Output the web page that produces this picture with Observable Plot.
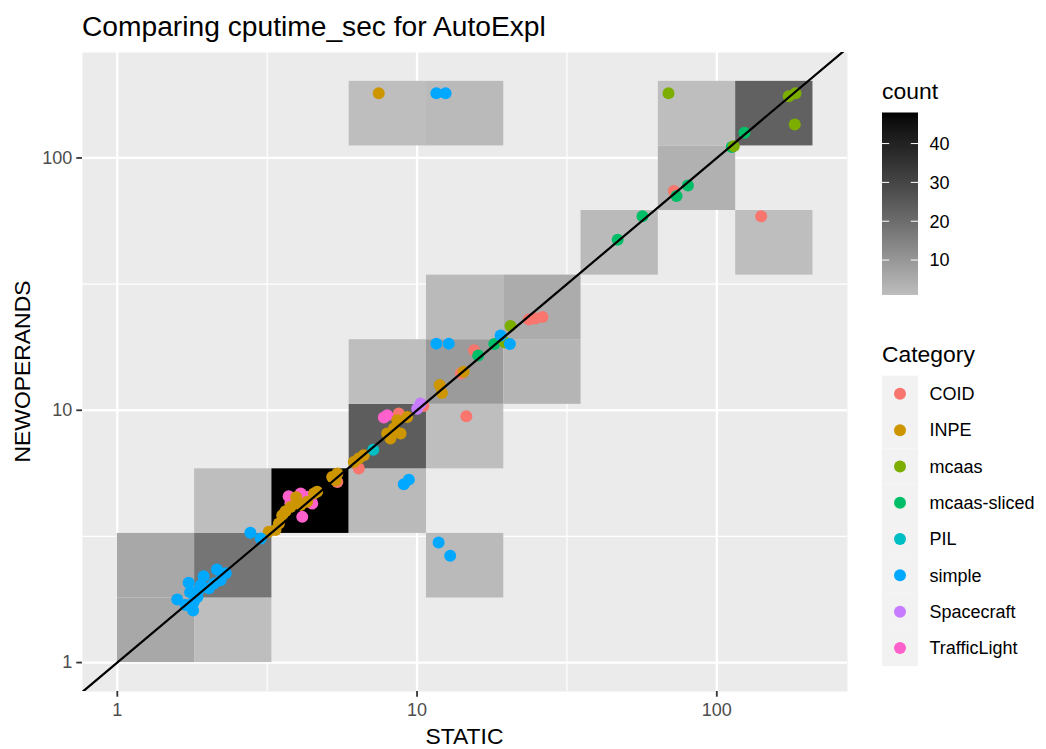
<!DOCTYPE html>
<html><head><meta charset="utf-8">
<script src="https://cdn.jsdelivr.net/npm/d3@7"></script>
<script src="https://cdn.jsdelivr.net/npm/@observablehq/plot@0.6"></script>
<style>
body{margin:0;background:#fff;}
#wrap{position:relative;width:1046px;height:749px;font-family:"Liberation Sans",Arial,Helvetica,sans-serif;}
#wrap > svg{position:absolute;left:0;top:0;}
</style></head><body><div id="wrap"></div>
<script>
// ---- data ----
const categories = ["COID","INPE","mcaas","mcaas-sliced","PIL","simple","Spacecraft","TrafficLight"];
const categoryColors = ["#F8766D","#CD9600","#7CAE00","#00BE67","#00BFC4","#00A9FF","#C77CFF","#FF61CC"];
const drawOrder = ["COID","TrafficLight","INPE","PIL","Spacecraft","mcaas-sliced","mcaas","simple"];

// [STATIC, NEWOPERANDS]
const COID = [[15.5,17.3],[14.0,14.0],[14.6,9.47],[10.5,10.4],[8.69,9.7],[6.39,5.88],[5.42,5.2],[23.6,22.9],[24.8,23.1],[26.2,23.4],[71.9,73.9],[140.6,58.7]];
const INPE = [[7.45,180.6],[14.3,14.2],[11.9,12.6],[12.1,11.7],[8.59,9.13],[9.27,9.41],[8.37,8.46],[8.81,8.09],[8.15,7.73],[7.95,8.09],[6.64,6.63],[6.39,6.44],[6.15,6.24],[5.42,5.62],[5.21,5.44],[5.35,5.28],[4.64,4.75],[4.53,4.68],[4.30,4.34],[4.09,4.21],[3.78,4.14],[3.55,3.84],[3.46,3.56],[3.37,3.35],[3.20,3.30],[3.95,4.52],[3.64,3.98]];
const mcaas = [[69.0,180.6],[173.8,175.7],[183.1,180.6],[182.0,135.7],[113.9,111.4],[20.5,21.6],[19.6,18.6]];
const mcaasSliced = [[123.7,125.9],[112.2,110.4],[80.1,77.8],[73.4,70.6],[56.5,58.7],[46.7,47.4],[18.1,18.3],[16.0,16.5]];
const PIL = [[7.14,6.97]];
const simple = [[11.6,180.6],[12.45,180.6],[11.6,18.37],[12.76,18.37],[19.0,19.8],[20.4,18.3],[11.8,2.99],[12.9,2.65],[9.39,5.31],[9.03,5.09],[2.78,3.27],[3.01,3.10],[1.585,1.78],[1.73,2.07],[1.94,2.20],[2.15,2.34],[2.30,2.26],[1.80,1.74],[1.79,1.61],[1.69,1.69],[1.87,1.94],[2.02,1.97],[2.10,2.06],[2.21,2.12],[1.85,1.82],[1.75,1.90],[1.90,2.03]];
const Spacecraft = [[10.27,10.63],[10.01,10.15]];
const TrafficLight = [[7.75,9.36],[7.95,9.55],[3.73,4.56],[4.09,4.68],[4.30,4.54],[4.47,4.27],[4.14,3.78],[3.78,4.28]];
const seriesByCategory = {"COID":COID,"INPE":INPE,"mcaas":mcaas,"mcaas-sliced":mcaasSliced,"PIL":PIL,"simple":simple,"Spacecraft":Spacecraft,"TrafficLight":TrafficLight};

// 2D bins (log-spaced edges) and counts
const binXEdges = [1, 1.811, 3.279, 5.937, 10.75, 19.47, 35.25, 63.83, 115.6, 209.3];
const binYEdges = [1, 1.803, 3.250, 5.859, 10.56, 19.04, 34.33, 61.9, 111.6, 201.2];
const binCol   = [0,0,1,1, 1, 2,3, 3,4,4,3,4,5,4,5,6,7,8,7, 8,3,4];
const binRow   = [0,1,0,1, 2, 2,2, 3,1,3,4,4,4,5,5,6,7,6,8, 8,8,8];
const binCount = [6,6,1,18,1,48,2,24,2,1,1,9,3,2,5,2,4,1,1,23,1,2];

const countTicks = [10,20,30,40];
const xTicks = [1,10,100];
const yTicks = [1,10,100];
const minorTicks = [3.1623, 31.623];
const xDomain = [0.7654, 272.9];
const yDomain = [0.768, 261.8];
const countDomain = [1, 48];
const lowFill = "#bebebe", highFill = "#000000";

// ---- derived tables ----
const cells = binCount.map((c,k) => ({
  x1: binXEdges[binCol[k]], x2: binXEdges[binCol[k]+1],
  y1: binYEdges[binRow[k]], y2: binYEdges[binRow[k]+1], count: c
}));
const diagonal = [0.5, 400];
const interp = d3.interpolateLab(lowFill, highFill);

const FONT = '"Liberation Sans", Arial, Helvetica, sans-serif';
const R = 6;
const dotMarks = drawOrder.map(cat => Plot.dot(seriesByCategory[cat], {
  x: d => d[0], y: d => d[1], r: R, fill: categoryColors[categories.indexOf(cat)], stroke: "none"
}));

const plot = Plot.plot({
  width: 1046, height: 749,
  marginLeft: 82, marginRight: 199, marginTop: 52, marginBottom: 58,
  style: {fontFamily: FONT, background: "transparent", overflow: "visible"},
  x: {type: "log", domain: xDomain},
  y: {type: "log", domain: yDomain},
  color: {type: "linear", domain: countDomain, interpolate: interp},
  marks: [
    Plot.frame({fill: "#ebebeb", stroke: "none"}),
    Plot.gridX(minorTicks, {stroke: "white", strokeOpacity: 1, strokeWidth: 1.2}),
    Plot.gridY(minorTicks, {stroke: "white", strokeOpacity: 1, strokeWidth: 1.2}),
    Plot.gridX(xTicks, {stroke: "white", strokeOpacity: 1, strokeWidth: 2.3}),
    Plot.gridY(yTicks, {stroke: "white", strokeOpacity: 1, strokeWidth: 2.3}),
    Plot.rect(cells, {x1: "x1", x2: "x2", y1: "y1", y2: "y2", fill: "count"}),
    ...dotMarks,
    Plot.line(diagonal, {x: d => d, y: d => d, stroke: "black", strokeWidth: 2.2, clip: true}),
    Plot.axisX({ticks: xTicks, tickFormat: d => String(d), tickSize: 5.7, tickPadding: 6.4, fontSize: 18,
      stroke: "#333333", fill: "#4d4d4d", strokeWidth: 1.8, label: null}),
    Plot.axisY({ticks: yTicks, tickFormat: d => String(d), tickSize: 5.7, tickPadding: 4.6, fontSize: 18,
      stroke: "#333333", fill: "#4d4d4d", strokeWidth: 1.8, label: null})
  ]
});
const wrap = document.getElementById("wrap");
wrap.appendChild(plot);

// ---- overlay: titles and legends ----
const svg = d3.select(wrap).append("svg").attr("width", 1046).attr("height", 749)
  .style("font-family", FONT).style("pointer-events", "none");

svg.append("text").attr("x", 82).attr("y", 36).attr("font-size", 28.2).attr("fill", "black")
  .text("Comparing cputime_sec for AutoExpl");
svg.append("text").attr("x", 464.5).attr("y", 743.5).attr("text-anchor", "middle")
  .attr("font-size", 22.9).attr("fill", "black").text("STATIC");
svg.append("text").attr("transform", "translate(30,371.5) rotate(-90)").attr("text-anchor", "middle")
  .attr("font-size", 22.9).attr("fill", "black").text("NEWOPERANDS");

// colorbar
const cbX = 882, cbW = 36, cbTop = 112.5, cbBottom = 295;
svg.append("text").attr("x", cbX).attr("y", 99).attr("font-size", 22.9).text("count");
const grad = svg.append("defs").append("linearGradient").attr("id", "cbgrad")
  .attr("x1", 0).attr("x2", 0).attr("y1", 1).attr("y2", 0);
d3.range(0, 1.0001, 0.05).forEach(t => grad.append("stop").attr("offset", t).attr("stop-color", interp(t)));
svg.append("rect").attr("x", cbX).attr("y", cbTop).attr("width", cbW).attr("height", cbBottom - cbTop)
  .attr("fill", "url(#cbgrad)");
const cbScale = d3.scaleLinear().domain(countDomain).range([cbBottom, cbTop]);
countTicks.forEach(v => {
  const y = cbScale(v);
  svg.append("line").attr("x1", cbX).attr("x2", cbX + 7.2).attr("y1", y).attr("y2", y).attr("stroke", "white").attr("stroke-width", 1);
  svg.append("line").attr("x1", cbX + cbW - 7.2).attr("x2", cbX + cbW).attr("y1", y).attr("y2", y).attr("stroke", "white").attr("stroke-width", 1);
  svg.append("text").attr("x", cbX + cbW + 11.5).attr("y", y).attr("dy", "0.35em").attr("font-size", 18).text(v);
});

// category legend
svg.append("text").attr("x", cbX).attr("y", 361.5).attr("font-size", 22.9).text("Category");
const keyTop = 375.7, keyH = 36.3;
categories.forEach((c, i) => {
  const y0 = keyTop + i * keyH;
  svg.append("rect").attr("x", cbX).attr("y", y0).attr("width", 36).attr("height", keyH).attr("fill", "#f2f2f2");
  svg.append("circle").attr("cx", cbX + 18).attr("cy", y0 + keyH / 2).attr("r", R).attr("fill", categoryColors[i]);
  svg.append("text").attr("x", cbX + 36 + 11.5).attr("y", y0 + keyH / 2).attr("dy", "0.35em").attr("font-size", 18).text(c);
});
</script></body></html>
